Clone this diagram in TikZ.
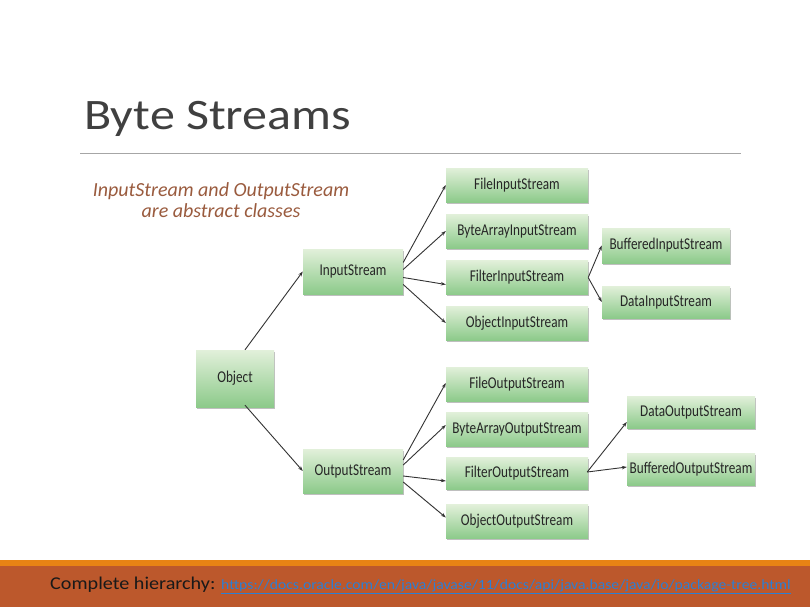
\documentclass[tikz,border=0pt]{standalone}
\usepackage{fontspec}
\setmainfont{Carlito}
\newfontfamily\boxfont[FakeStretch=0.8]{Carlito}
\newfontfamily\titlefont[FakeStretch=1.15]{Carlito}
\newfontfamily\footfont[FakeStretch=1.12]{Carlito}
\usetikzlibrary{arrows.meta,calc,shadows}

\definecolor{titlegray}{HTML}{404040}
\definecolor{rulegray}{HTML}{A6A6A6}
\definecolor{notebrown}{HTML}{9A5B3E}
\definecolor{boxtop}{RGB}{226,240,218}
\definecolor{boxbottom}{RGB}{140,202,138}
\definecolor{linkgray}{HTML}{333333}
\definecolor{barline}{RGB}{232,131,20}
\definecolor{barfill}{RGB}{188,88,44}
\definecolor{linkblue}{HTML}{2B7FD4}

\tikzset{
  classbox/.style={rectangle, inner sep=0pt, top color=boxtop, bottom color=boxbottom,
    draw=none, font=\boxfont\fontsize{16.5}{18}\selectfont, text=black!85,
    drop shadow={shadow xshift=1.2pt, shadow yshift=-1.5pt, opacity=0.25, fill=black}},
  midbox/.style={classbox, minimum width=142pt, minimum height=34pt},
  sidebox/.style={classbox, minimum width=128pt, minimum height=33pt},
  inherit/.style={draw=linkgray, line width=0.9pt, -{Stealth[length=5pt,width=3.5pt]}}
}

\begin{document}
\begin{tikzpicture}[x=1pt,y=-1pt]
\useasboundingbox (0,0) rectangle (810,607);
\fill[white] (0,0) rectangle (810,607);

% heading and rule
\node[anchor=base west, inner sep=0pt, text=titlegray,
      font=\titlefont\fontsize{43.5}{48}\selectfont] (title) at (84,129.5) {Byte Streams};
\coordinate (ruleL) at (80,153);
\coordinate (ruleR) at (741,153);
\draw[rulegray, line width=1pt] (ruleL) -- (ruleR);

% note
\node[anchor=base, inner sep=0pt, text=notebrown, font=\itshape\fontsize{20}{22}\selectfont]
  (note1) at (221,196) {InputStream and OutputStream};
\node[anchor=base, inner sep=0pt, text=notebrown, font=\itshape\fontsize{20}{22}\selectfont]
  (note2) at (221,217) {are abstract classes};

% class boxes
\node[classbox, minimum width=78pt, minimum height=57pt] (obj) at (235,378.5) {Object};
\node[classbox, minimum width=100pt, minimum height=45pt] (is) at (353,271.5) {InputStream};
\node[classbox, minimum width=100pt, minimum height=44pt] (os) at (353,471) {OutputStream};

\node[midbox] (fis)   at (517,185)   {FileInputStream};
\node[midbox] (bais)  at (517,231)   {ByteArrayInputStream};
\node[midbox] (fltis) at (517,277.5) {FilterInputStream};
\node[midbox] (ois)   at (517,323)   {ObjectInputStream};

\node[sidebox, minimum height=35pt] (bis) at (666,245.5) {BufferedInputStream};
\node[sidebox, minimum height=32pt] (dis) at (666,302)   {DataInputStream};

\node[midbox] (fos)   at (517,384)   {FileOutputStream};
\node[midbox] (baos)  at (517,429)   {ByteArrayOutputStream};
\node[midbox, minimum height=32pt] (fltos) at (517,473) {FilterOutputStream};
\node[midbox] (oos)   at (517,521.5) {ObjectOutputStream};

\node[sidebox, minimum height=32pt] (dos) at (691,412) {DataOutputStream};
\node[sidebox, minimum height=32pt] (bos) at (691,469) {BufferedOutputStream};

% inheritance arrows
\draw[inherit] ($(obj.north)+(10,0)$) -- (is.west);
\draw[inherit] ($(obj.south)+(10,-2)$) -- (os.west);

\draw[inherit] ($(is.east)+(0,-9)$) -- (fis.west);
\draw[inherit] ($(is.east)+(0,-2)$) -- (bais.west);
\draw[inherit] ($(is.east)+(0,6)$)  -- ($(fltis.west)+(0,7)$);
\draw[inherit] ($(is.east)+(0,13)$) -- (ois.west);

\draw[inherit] (fltis.east) -- (bis.west);
\draw[inherit] (fltis.east) -- (dis.west);

\draw[inherit] ($(os.east)+(0,-11)$) -- ($(fos.west)+(0,-1)$);
\draw[inherit] ($(os.east)+(0,-6)$)  -- ($(baos.west)+(0,-4)$);
\draw[inherit] ($(os.east)+(0,5)$)   -- ($(fltos.west)+(0,8)$);
\draw[inherit] ($(os.east)+(0,11)$)  -- ($(oos.west)+(0,-4)$);

\draw[inherit] ($(fltos.east)+(-1,-1)$) -- ($(dos.west)+(0,10)$);
\draw[inherit] ($(fltos.east)+(-1,-1)$) -- ($(bos.west)+(0,-2)$);

% footer bar
\fill[barline] (0,560) rectangle (810,566);
\fill[barfill] (0,566) rectangle (810,607);
\node[anchor=base west, inner sep=0pt, text=black!90, font=\footfont\fontsize{18}{20}\selectfont]
  (footer) at (50,589) {Complete hierarchy:};
\node[anchor=base west, inner sep=0pt, text=linkblue, font=\footfont\fontsize{14}{16}\selectfont]
  (link) at (221,589) {\underline{https://docs.oracle.com/en/java/javase/11/docs/api/java.base/java/io/package-tree.html}};
\end{tikzpicture}
\end{document}
